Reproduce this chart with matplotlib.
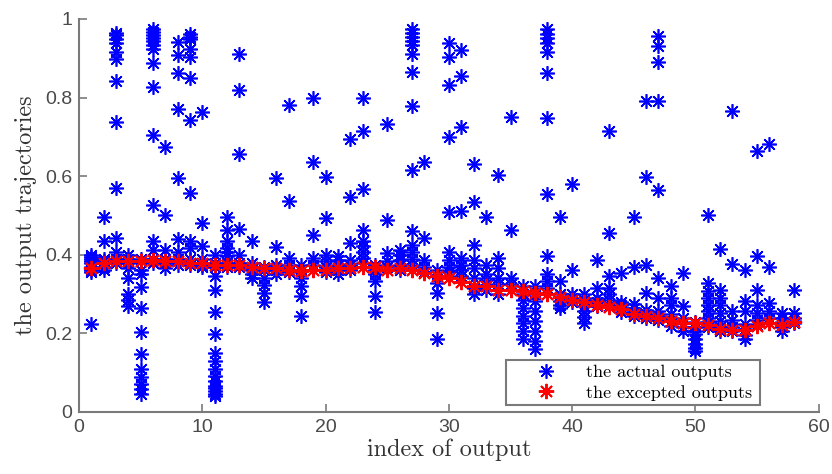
import matplotlib
matplotlib.use("Agg")
import matplotlib.pyplot as plt

output_index = list(range(1, 59))

expected_outputs = [
    0.366, 0.379, 0.385, 0.385, 0.383, 0.387, 0.385, 0.383, 0.380, 0.379,
    0.373, 0.373, 0.375, 0.368, 0.365, 0.366, 0.362, 0.358, 0.362, 0.362,
    0.366, 0.365, 0.368, 0.368, 0.362, 0.365, 0.360, 0.354, 0.345, 0.341,
    0.331, 0.320, 0.320, 0.311, 0.309, 0.307, 0.303, 0.300, 0.292, 0.286,
    0.280, 0.273, 0.267, 0.261, 0.250, 0.244, 0.240, 0.232, 0.227, 0.226,
    0.222, 0.210, 0.208, 0.208, 0.219, 0.225, 0.222, 0.230,
]

actual_outputs = [
    [0.40, 0.39, 0.38, 0.37, 0.36, 0.355, 0.223, 0.395, 0.385],
    [0.497, 0.435, 0.39, 0.38, 0.37, 0.36, 0.385],
    [0.965, 0.958, 0.95, 0.94, 0.915, 0.898, 0.843, 0.739, 0.57, 0.442, 0.408, 0.39, 0.38],
    [0.40, 0.39, 0.38, 0.366, 0.341, 0.299, 0.269, 0.285],
    [0.39, 0.383, 0.36, 0.35, 0.317, 0.265, 0.203, 0.147, 0.109, 0.088, 0.071, 0.058, 0.045],
    [0.975, 0.968, 0.96, 0.952, 0.944, 0.935, 0.923, 0.888, 0.826, 0.704, 0.527, 0.434, 0.413, 0.39, 0.38],
    [0.674, 0.501, 0.413, 0.39, 0.38, 0.366],
    [0.942, 0.908, 0.862, 0.77, 0.596, 0.44, 0.408, 0.39, 0.375],
    [0.962, 0.955, 0.948, 0.923, 0.902, 0.851, 0.742, 0.556, 0.434, 0.417, 0.39, 0.375],
    [0.763, 0.48, 0.421, 0.39, 0.375, 0.37],
    [0.40, 0.38, 0.37, 0.345, 0.309, 0.254, 0.197, 0.151, 0.13, 0.109, 0.092, 0.079, 0.067, 0.06, 0.052, 0.045, 0.04],
    [0.497, 0.463, 0.434, 0.417, 0.408, 0.396, 0.38, 0.37],
    [0.911, 0.82, 0.657, 0.466, 0.40, 0.38, 0.37],
    [0.435, 0.38, 0.366, 0.35, 0.341, 0.36],
    [0.37, 0.36, 0.341, 0.324, 0.303, 0.28],
    [0.594, 0.419, 0.375, 0.36, 0.35],
    [0.781, 0.537, 0.392, 0.375, 0.36, 0.355],
    [0.375, 0.36, 0.341, 0.32, 0.295, 0.244],
    [0.80, 0.636, 0.451, 0.392, 0.375, 0.36],
    [0.598, 0.493, 0.40, 0.385, 0.37, 0.355],
    [0.396, 0.387, 0.375, 0.36, 0.35],
    [0.695, 0.548, 0.43, 0.387, 0.375, 0.36],
    [0.798, 0.714, 0.567, 0.463, 0.434, 0.421, 0.408, 0.392, 0.38, 0.37],
    [0.375, 0.36, 0.35, 0.332, 0.295, 0.255],
    [0.733, 0.489, 0.404, 0.385, 0.37, 0.36],
    [0.413, 0.40, 0.387, 0.375, 0.36],
    [0.974, 0.965, 0.955, 0.945, 0.935, 0.911, 0.866, 0.778, 0.615, 0.461, 0.425, 0.408, 0.39, 0.375, 0.36],
    [0.636, 0.442, 0.387, 0.37, 0.355],
    [0.36, 0.345, 0.328, 0.303, 0.252, 0.185],
    [0.94, 0.902, 0.832, 0.70, 0.51, 0.408, 0.387, 0.37, 0.355],
    [0.922, 0.856, 0.725, 0.511, 0.392, 0.375, 0.36, 0.345],
    [0.632, 0.533, 0.425, 0.387, 0.366, 0.341, 0.316, 0.30],
    [0.497, 0.375, 0.35, 0.335, 0.324, 0.31],
    [0.603, 0.392, 0.366, 0.341, 0.325, 0.30],
    [0.75, 0.463, 0.341, 0.325, 0.31],
    [0.32, 0.30, 0.285, 0.265, 0.245, 0.227, 0.205, 0.185],
    [0.32, 0.30, 0.282, 0.257, 0.231, 0.206, 0.181, 0.16],
    [0.974, 0.962, 0.952, 0.94, 0.915, 0.862, 0.748, 0.554, 0.396, 0.35, 0.332, 0.315, 0.30],
    [0.497, 0.332, 0.30, 0.282, 0.272, 0.265],
    [0.579, 0.36, 0.30, 0.29, 0.28],
    [0.30, 0.285, 0.27, 0.257, 0.242, 0.227],
    [0.387, 0.316, 0.29, 0.28, 0.27],
    [0.716, 0.455, 0.345, 0.316, 0.30, 0.285, 0.27],
    [0.354, 0.28, 0.273, 0.265, 0.255],
    [0.497, 0.37, 0.275, 0.265, 0.255, 0.245],
    [0.792, 0.597, 0.375, 0.303, 0.26, 0.25, 0.24],
    [0.957, 0.932, 0.89, 0.792, 0.565, 0.341, 0.29, 0.257, 0.245, 0.235],
    [0.32, 0.29, 0.273, 0.248, 0.232, 0.219],
    [0.354, 0.269, 0.24, 0.227, 0.215, 0.206],
    [0.23, 0.215, 0.206, 0.197, 0.185, 0.172, 0.163, 0.155],
    [0.501, 0.328, 0.307, 0.29, 0.273, 0.257, 0.24, 0.228, 0.215],
    [0.415, 0.311, 0.29, 0.273, 0.252, 0.231, 0.215, 0.205],
    [0.765, 0.376, 0.257, 0.235, 0.215, 0.205],
    [0.36, 0.282, 0.257, 0.223, 0.21, 0.195, 0.185],
    [0.663, 0.398, 0.311, 0.273, 0.252, 0.235, 0.22],
    [0.683, 0.368, 0.278, 0.257, 0.24, 0.225],
    [0.252, 0.24, 0.228, 0.215, 0.206],
    [0.311, 0.252, 0.24, 0.232, 0.225],
]

x_ticks = [0, 10, 20, 30, 40, 50, 60]
y_ticks = [0, 0.2, 0.4, 0.6, 0.8, 1]
y_tick_labels = ["0", "0.2", "0.4", "0.6", "0.8", "1"]

ax_x, ax_y = [], []
for i, vals in zip(output_index, actual_outputs):
    for v in vals:
        ax_x.append(i)
        ax_y.append(v)

fig = plt.figure(figsize=(8.32, 4.74), dpi=100)
ax = fig.add_axes([0.095, 0.131, 0.889, 0.829])

star = (8, 2, 0)
ax.plot(ax_x, ax_y, linestyle="none", marker=star, markersize=10.5,
        markeredgewidth=1.2, color=(0, 0, 1), label="the actual outputs")
ax.plot(output_index, expected_outputs, linestyle="none", marker=star,
        markersize=11, markeredgewidth=1.4, color=(1, 0, 0),
        label="the excepted outputs")

ax.set_xlim(0, 60)
ax.set_ylim(0, 1)
ax.set_xticks(x_ticks)
ax.set_yticks(y_ticks)
ax.set_yticklabels(y_tick_labels)

grey = "#7a7a7a"
for s in ["top", "right"]:
    ax.spines[s].set_visible(False)
for s in ["left", "bottom"]:
    ax.spines[s].set_color(grey)
    ax.spines[s].set_linewidth(1.5)
ax.tick_params(direction="in", length=6, width=1.2, color=grey,
               labelcolor="#4a4a4a", labelsize=14, pad=5)
for lab in ax.get_xticklabels() + ax.get_yticklabels():
    lab.set_fontfamily("Liberation Sans")

ax.set_xlabel("index of output", fontfamily="cmr10", fontsize=17.5,
              color="#333333", labelpad=2)
ax.set_ylabel("the output trajectories", fontfamily="cmr10", fontsize=17.5,
              color="#333333", labelpad=6)

leg = ax.legend(loc="lower left", bbox_to_anchor=(0.577, 0.017, 0.344, 0.136),
                mode="expand", prop={"family": "cmr10", "size": 13},
                frameon=True, fancybox=False, borderpad=0.25,
                handlelength=4.0, handletextpad=0.2, labelspacing=0.25,
                borderaxespad=0)
leg.get_frame().set_edgecolor(grey)
leg.get_frame().set_linewidth(1.5)
leg.get_frame().set_alpha(1)

fig.savefig("out.png", dpi=100)
